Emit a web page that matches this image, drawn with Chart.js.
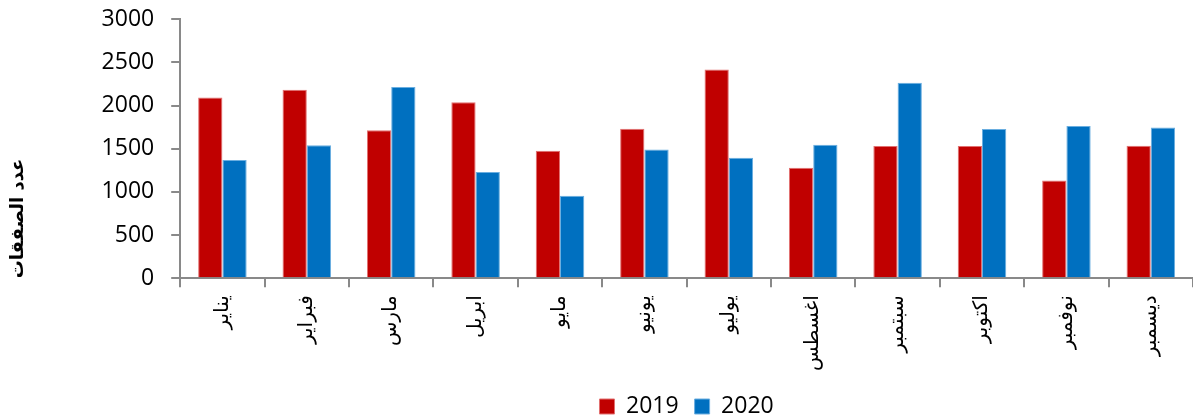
<!DOCTYPE html>
<html>
<head>
<meta charset="utf-8">
<script src="https://cdn.jsdelivr.net/npm/chart.js@4"></script>
<style>
  html, body { margin: 0; padding: 0; background: #fff; }
  #wrap { width: 1193px; height: 418px; }
</style>
</head>
<body>
<div id="wrap"><canvas id="chart"></canvas></div>
<script>
// Months (Arabic), as on the x axis
const months = ['يناير', 'فبراير', 'مارس', 'ابريل', 'مايو', 'يونيو', 'يوليو', 'اغسطس', 'سبتمبر', 'اكتوبر', 'نوفمبر', 'ديسمبر'];

// Number of deals per month
const deals2019 = [2095, 2185, 1715, 2040, 1478, 1732, 2417, 1280, 1531, 1531, 1133, 1535];
const deals2020 = [1370, 1542, 2215, 1230, 955, 1492, 1396, 1548, 2266, 1728, 1764, 1745];

const yTitle = 'عدد الصفقات';
const axisGray = '#898989';

new Chart(document.getElementById('chart'), {
  type: 'bar',
  data: {
    labels: months,
    datasets: [
      {
        label: '2019',
        data: deals2019,
        backgroundColor: '#C00000',
        borderColor: '#E27070',
        borderWidth: 1
      },
      {
        label: '2020',
        data: deals2020,
        backgroundColor: '#0070C0',
        borderColor: '#6AAEE0',
        borderWidth: 1
      }
    ]
  },
  options: {
    responsive: true,
    maintainAspectRatio: false,
    animation: false,
    // negative bottom pad lets the legend sit lower, like the original
    layout: { padding: { top: 0, right: 0, left: 8, bottom: -10 } },
    datasets: {
      bar: { categoryPercentage: 0.575, barPercentage: 1 }
    },
    plugins: {
      tooltip: { enabled: false },
      legend: {
        position: 'bottom',
        fullSize: false,
        labels: {
          color: '#000',
          boxWidth: 15,
          boxHeight: 15,
          padding: 16,
          font: { family: 'Open Sans', size: 23, lineHeight: 1 }
        }
      }
    },
    scales: {
      x: {
        grid: {
          drawOnChartArea: false,
          drawTicks: true,
          tickLength: 9,
          color: axisGray,
          lineWidth: 2
        },
        border: { color: axisGray, width: 2 },
        ticks: {
          minRotation: 90,
          maxRotation: 90,
          color: '#000',
          padding: 8,
          font: { family: 'DejaVu Sans', size: 20 }
        }
      },
      y: {
        min: 0,
        max: 3000,
        grid: {
          drawOnChartArea: false,
          drawTicks: true,
          tickLength: 9,
          color: axisGray,
          lineWidth: 2
        },
        border: { color: axisGray, width: 2 },
        ticks: {
          stepSize: 500,
          color: '#000',
          padding: 17,
          font: { family: 'Open Sans', size: 23, lineHeight: 0.2 },
          callback: value => String(value)
        },
        title: {
          display: true,
          text: yTitle,
          align: 'start',
          color: '#000',
          padding: { top: 0, bottom: 55 },
          font: { family: 'DejaVu Sans', size: 18, weight: 'bold' }
        }
      }
    }
  }
});
</script>
</body>
</html>
